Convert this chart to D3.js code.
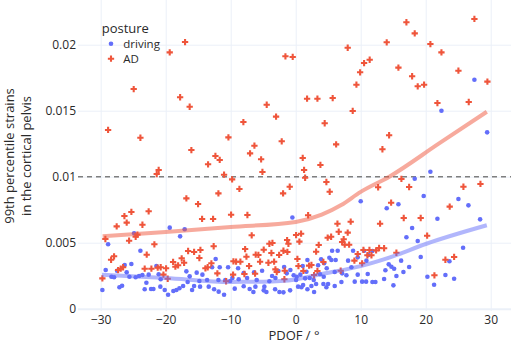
<!DOCTYPE html>
<html>
<head>
<meta charset="utf-8">
<script src="https://cdn.jsdelivr.net/npm/d3@7"></script>
<style>
  body { margin: 0; background: #fff; }
  text { font-family: "Open Sans", sans-serif; fill: #2a2a2a; }
</style>
</head>
<body>
<script>
var svgWidth = 512;
var svgHeight = 343;

// axis ticks
var xTicks = [-30, -20, -10, 0, 10, 20, 30];
var yTicks = [0, 0.005, 0.01, 0.015, 0.02];
var yTickLabels = ["0", "0.005", "0.01", "0.015", "0.02"];
var threshold = 0.01;
var postures = ["driving", "AD"];

// driving posture (blue dots)
var drivingPdof = [
  27.49, 22.42, 29.45, 20.72, 18.31, 10.0, 14.0, 15.8, 19.69, 25.03,
  26.57, 21.8, 28.37, 17.91, 17.03, 18.77, 25.75, 16.22, 19.23, 23.65,
  17.45, 16.57, 15.49, 20.26, 23.03, 24.37, 21.29, -0.51, 5.6, 6.46,
  8.83, 10.52, 11.8, 11.18, 5.18, 5.49, 6.15, 1.8, 9.54, 10.88,
  8.06, 1.08, 3.45, 4.77, 6.0, 7.14, 7.8, 8.57, 9.54, 11.08,
  13.8, 14.31, 14.72, 15.14, 0.15, 1.45, 2.15, 3.75, 0.06, 2.42,
  3.14, 4.26, 4.98, 6.0, 7.03, 0.37, 2.83, 9.08, 10.22, 10.83,
  11.8, 12.26, 13.6, 15.03, -12.31, -15.23, -14.35, -12.86, -11.69, -10.4,
  -8.86, -6.4, -5.17, -1.78, -1.38, -14.82, -13.63, -11.89, -10.82, -10.09,
  -8.77, -7.48, -6.0, -4.05, -3.12, -14.71, -13.38, -12.55, -11.02, -11.85,
  -9.38, -8.0, -7.08, -6.2, -6.51, -4.82, -4.51, -3.17, -2.51, -1.89,
  -8.0, -3.63, -2.66, -0.82, -0.31, 0.72, 1.65, 3.91, 4.37, -9.74,
  -4.92, -0.86, 0.88, 1.8, 4.72, 2.77, 4.31, 1.14, -28.86, -24.86,
  -19.38, -17.08, -17.78, -23.89, -29.23, -29.74, -28.35, -27.94, -27.48, -26.31,
  -25.28, -26.0, -25.58, -24.62, -24.09, -23.58, -22.62, -21.43, -21.08, -20.77,
  -27.12, -26.71, -22.97, -23.23, -22.25, -21.89, -20.82, -20.15, -19.63, -18.82,
  -18.35, -17.89, -17.32, -16.82, -16.31, -16.62, -15.63, -15.94
];
var drivingStrain = [
  0.01735, 0.01500, 0.01336, 0.01038, 0.00985, 0.00814, 0.00761, 0.00791, 0.00854, 0.00831,
  0.00783, 0.00682, 0.00677, 0.00611, 0.00541, 0.00513, 0.00462, 0.00364, 0.00392, 0.00359,
  0.00316, 0.00278, 0.00248, 0.00242, 0.00255, 0.00227, 0.00182, 0.00691, 0.00439, 0.00439,
  0.00439, 0.00439, 0.00437, 0.00407, 0.00386, 0.00369, 0.00369, 0.00369, 0.00389, 0.00364,
  0.00364, 0.00323, 0.00329, 0.00306, 0.00278, 0.00268, 0.00253, 0.00314, 0.00258, 0.00263,
  0.00291, 0.00336, 0.00318, 0.00303, 0.00242, 0.00230, 0.00233, 0.00261, 0.00217, 0.00172,
  0.00187, 0.00187, 0.00187, 0.00172, 0.00202, 0.00167, 0.00127, 0.00205, 0.00205, 0.00205,
  0.00202, 0.00202, 0.00225, 0.00177, 0.00377, 0.00273, 0.00258, 0.00314, 0.00314, 0.00314,
  0.00306, 0.00276, 0.00288, 0.00316, 0.00268, 0.00210, 0.00217, 0.00217, 0.00217, 0.00210,
  0.00223, 0.00233, 0.00217, 0.00208, 0.00233, 0.00167, 0.00167, 0.00147, 0.00106, 0.00129,
  0.00152, 0.00170, 0.00149, 0.00167, 0.00127, 0.00167, 0.00127, 0.00147, 0.00127, 0.00124,
  0.00270, 0.00248, 0.00286, 0.00293, 0.00253, 0.00258, 0.00280, 0.00374, 0.00344, 0.00233,
  0.00139, 0.00139, 0.00162, 0.00147, 0.00162, 0.00217, 0.00242, 0.00180, 0.00488, 0.00571,
  0.00614, 0.00602, 0.00548, 0.00439, 0.00293, 0.00142, 0.00242, 0.00238, 0.00288, 0.00331,
  0.00339, 0.00276, 0.00242, 0.00238, 0.00248, 0.00255, 0.00258, 0.00323, 0.00261, 0.00223,
  0.00162, 0.00174, 0.00197, 0.00147, 0.00149, 0.00149, 0.00167, 0.00142, 0.00106, 0.00134,
  0.00142, 0.00155, 0.00172, 0.00283, 0.00245, 0.00202, 0.00172, 0.00142
];

// AD posture (red crosses)
var adPdof = [
  -28.86, -24.92, -23.89, -19.38, -17.02, -17.78, -16.31, -16.05, -21.08, -21.38,
  -13.48, -12.35, -11.69, -10.35, -11.02, -9.78, -8.05, -4.46, -3.02, -6.35,
  -7.02, -5.32, -2.15, -5.12, -1.58, -0.46, 1.75, 3.34, 5.69, 8.0,
  8.77, 9.34, 9.91, 10.52, 11.38, 14.0, 17.03, 18.31, 15.8, 17.91,
  18.77, 19.75, 20.72, 22.42, 25.03, 27.49, 29.49, 26.62, 21.8, 4.46,
  6.22, 14.37, 13.34, 1.08, 1.29, 3.8, 1.45, 16.26, -16.82, -26.35,
  -25.28, -27.54, -26.0, -22.62, -23.58, -29.28, -25.63, -24.62, -24.35, -21.74,
  -28.4, -27.94, -22.92, -29.74, -27.32, -26.92, -26.55, -23.23, -22.2, -21.23,
  -20.77, -19.94, -20.35, -18.86, -18.51, -18.09, -17.54, -17.17, -16.55, -15.63,
  -19.69, -15.02, -11.89, -8.66, -14.4, -12.71, -9.94, -7.43, -1.94, -0.92,
  -6.77, -12.62, -14.66, -14.82, -7.78, -7.58, -4.05, -3.58, -4.92, -1.32,
  -1.12, -1.28, -1.89, -3.74, -6.15, -5.74, -9.58, -9.17, -8.51, -12.97,
  -13.54, -13.89, -7.17, -5.48, -4.2, -3.32, -3.12, -12.05, -7.89, -9.63,
  -6.25, -2.92, -1.69, 4.72, 5.23, 12.68, 14.68, 1.91, 6.42, 8.46,
  12.98, 6.62, 8.0, 0.06, 0.83, 0.57, 4.92, 5.45, 7.38, 7.14,
  7.54, 8.22, 3.54, 3.14, 9.54, 10.42, 11.34, 12.37, 12.83, 13.6,
  11.03, 11.65, 9.03, 10.22, 0.26, 2.06, 2.42, 4.26, 0.42, 1.18,
  3.34, 6.92, 2.83, 17.45, 25.8, 28.42, 23.69, 16.62, 19.23, 20.22,
  15.49, 23.03, 24.37, 21.34, -2.55, -1.74, -10.71
];
var adStrain = [
  0.01354, 0.01664, 0.01295, 0.01942, 0.02020, 0.01602, 0.01530, 0.01202, 0.01051, 0.01020,
  0.01094, 0.01157, 0.01127, 0.01298, 0.01015, 0.00980, 0.01414, 0.01545, 0.01455, 0.01235,
  0.01177, 0.01132, 0.01268, 0.01036, 0.01912, 0.01907, 0.01591, 0.01591, 0.01596, 0.01977,
  0.01498, 0.01697, 0.01791, 0.01861, 0.01886, 0.02018, 0.02170, 0.02086, 0.01826, 0.01761,
  0.01685, 0.01697, 0.02005, 0.01942, 0.01803, 0.02195, 0.01720, 0.01566, 0.01558, 0.01405,
  0.01245, 0.01314, 0.01208, 0.01142, 0.01051, 0.01089, 0.00992, 0.00983, 0.00836, 0.00702,
  0.00733, 0.00624, 0.00652, 0.00738, 0.00636, 0.00528, 0.00515, 0.00545, 0.00561, 0.00488,
  0.00371, 0.00397, 0.00409, 0.00230, 0.00293, 0.00303, 0.00314, 0.00303, 0.00303, 0.00311,
  0.00314, 0.00306, 0.00258, 0.00354, 0.00318, 0.00329, 0.00382, 0.00348, 0.00437, 0.00430,
  0.00227, 0.00793, 0.00874, 0.00907, 0.00680, 0.00680, 0.00712, 0.00710, 0.00874, 0.00924,
  0.00556, 0.00473, 0.00445, 0.00384, 0.00452, 0.00394, 0.00492, 0.00498, 0.00447, 0.00520,
  0.00492, 0.00430, 0.00439, 0.00422, 0.00409, 0.00407, 0.00359, 0.00356, 0.00356, 0.00344,
  0.00314, 0.00306, 0.00323, 0.00356, 0.00348, 0.00356, 0.00298, 0.00268, 0.00263, 0.00258,
  0.00265, 0.00278, 0.00288, 0.00960, 0.00886, 0.00920, 0.00803, 0.00708, 0.00644, 0.00659,
  0.00644, 0.00583, 0.00576, 0.00558, 0.00568, 0.00508, 0.00538, 0.00545, 0.00526, 0.00505,
  0.00485, 0.00485, 0.00483, 0.00432, 0.00414, 0.00445, 0.00445, 0.00442, 0.00460, 0.00458,
  0.00405, 0.00405, 0.00364, 0.00344, 0.00377, 0.00326, 0.00331, 0.00354, 0.00323, 0.00286,
  0.00286, 0.00288, 0.00255, 0.00922, 0.00924, 0.00945, 0.00773, 0.00687, 0.00687, 0.00553,
  0.00424, 0.00371, 0.00392, 0.00253, 0.00407, 0.00223, 0.00208
];

// smoothed trend lines
var drivingTrendPdof = [-29.8, -20, -10, -5, 0, 4.2, 10, 14.5, 20.1, 29.4];
var drivingTrendStrain = [0.00258, 0.00233, 0.00203, 0.00205, 0.00222, 0.00265, 0.00323, 0.00389, 0.00492, 0.00632];
var adTrendPdof = [-29.7, -20, -10, 0, 4, 7, 10, 14.4, 22, 29.4];
var adTrendStrain = [0.00548, 0.00581, 0.00619, 0.00657, 0.00712, 0.00785, 0.00885, 0.01000, 0.01250, 0.01492];

var colors = { driving: "#636efa", AD: "#ef553b" };

// plot area
var plotLeft = 78, plotRight = 511, plotTop = 0, plotBottom = 311;

var svg = d3.select("body")
  .append("svg")
  .attr("width", svgWidth)
  .attr("height", svgHeight);

svg.append("rect").attr("width", svgWidth).attr("height", svgHeight).attr("fill", "#fff");

var xScale = d3.scaleLinear()
  .domain([-33.49, 33.12])
  .range([plotLeft, plotRight]);

var yScale = d3.scaleLinear()
  .domain([-0.000174, 0.023386])
  .range([plotBottom, plotTop]);

// grid lines
var xGrid = svg.append("g")
  .attr("transform", "translate(0," + plotBottom + ")")
  .call(d3.axisBottom(xScale).tickValues(xTicks).tickSize(-(plotBottom - plotTop)).tickFormat(""));
var yGrid = svg.append("g")
  .attr("transform", "translate(" + plotLeft + ",0)")
  .call(d3.axisLeft(yScale).tickValues(yTicks).tickSize(-(plotRight - plotLeft)).tickFormat(""));
[xGrid, yGrid].forEach(function(g) {
  g.select(".domain").remove();
  g.selectAll("line").attr("stroke", "#ebf0f8").attr("stroke-width", 1);
});
yGrid.selectAll(".tick").filter(function(d) { return d === 0; })
  .select("line").attr("stroke-width", 2);

// tick labels
var xAxis = svg.append("g")
  .attr("transform", "translate(0," + plotBottom + ")")
  .call(d3.axisBottom(xScale).tickValues(xTicks).tickSize(0).tickPadding(4));
var yAxis = svg.append("g")
  .attr("transform", "translate(" + plotLeft + ",0)")
  .call(d3.axisLeft(yScale).tickValues(yTicks).tickSize(0).tickPadding(2)
    .tickFormat(function(d, i) { return yTickLabels[i]; }));
[xAxis, yAxis].forEach(function(g) {
  g.select(".domain").remove();
  g.selectAll("text").attr("font-size", 12).attr("font-family", "Open Sans, sans-serif").attr("fill", "#2a2a2a");
});

// threshold line
svg.append("line")
  .attr("x1", plotLeft).attr("x2", plotRight)
  .attr("y1", yScale(threshold)).attr("y2", yScale(threshold))
  .attr("stroke", "#7f7f7f").attr("stroke-width", 1.5)
  .attr("stroke-dasharray", "5,4");

// points
var drivingData = d3.zip(drivingPdof, drivingStrain);
var adData = d3.zip(adPdof, adStrain);

svg.append("g").selectAll("circle")
  .data(drivingData)
  .enter().append("circle")
  .attr("cx", function(d) { return xScale(d[0]); })
  .attr("cy", function(d) { return yScale(d[1]); })
  .attr("r", 2.3)
  .attr("fill", colors.driving);

var cross = d3.symbol().type(d3.symbolCross).size(22);
svg.append("g").selectAll("path")
  .data(adData)
  .enter().append("path")
  .attr("d", cross)
  .attr("transform", function(d) { return "translate(" + xScale(d[0]) + "," + yScale(d[1]) + ")"; })
  .attr("fill", colors.AD);

// trend lines
var line = d3.line()
  .x(function(d) { return xScale(d[0]); })
  .y(function(d) { return yScale(d[1]); })
  .curve(d3.curveMonotoneX);

svg.append("path")
  .datum(d3.zip(drivingTrendPdof, drivingTrendStrain))
  .attr("d", line)
  .attr("fill", "none")
  .attr("stroke", colors.driving)
  .attr("stroke-opacity", 0.5)
  .attr("stroke-width", 4);

svg.append("path")
  .datum(d3.zip(adTrendPdof, adTrendStrain))
  .attr("d", line)
  .attr("fill", "none")
  .attr("stroke", colors.AD)
  .attr("stroke-opacity", 0.5)
  .attr("stroke-width", 4);

// axis titles
svg.append("text")
  .attr("x", 294).attr("y", 340)
  .attr("text-anchor", "middle")
  .attr("font-size", 13)
  .text("PDOF / °");

var yTitle = svg.append("g").attr("transform", "translate(0,156) rotate(-90)");
yTitle.append("text").attr("x", 0).attr("y", 13.5).attr("text-anchor", "middle")
  .attr("font-size", 13).text("99th percentile strains");
yTitle.append("text").attr("x", 0).attr("y", 31).attr("text-anchor", "middle")
  .attr("font-size", 13).text("in the cortical pelvis");

// legend
var legend = svg.append("g");
legend.append("text").attr("x", 101.7).attr("y", 33).attr("font-size", 13).text("posture");
postures.forEach(function(p, i) {
  var cy = 43.7 + i * 15;
  if (p === "driving") {
    legend.append("circle").attr("cx", 111).attr("cy", cy).attr("r", 2.3).attr("fill", colors[p]);
  } else {
    legend.append("path").attr("d", cross).attr("transform", "translate(111," + cy + ")").attr("fill", colors[p]);
  }
  legend.append("text").attr("x", 123.3).attr("y", cy + 3.8).attr("font-size", 11.5).text(p);
});
</script>
</body>
</html>
